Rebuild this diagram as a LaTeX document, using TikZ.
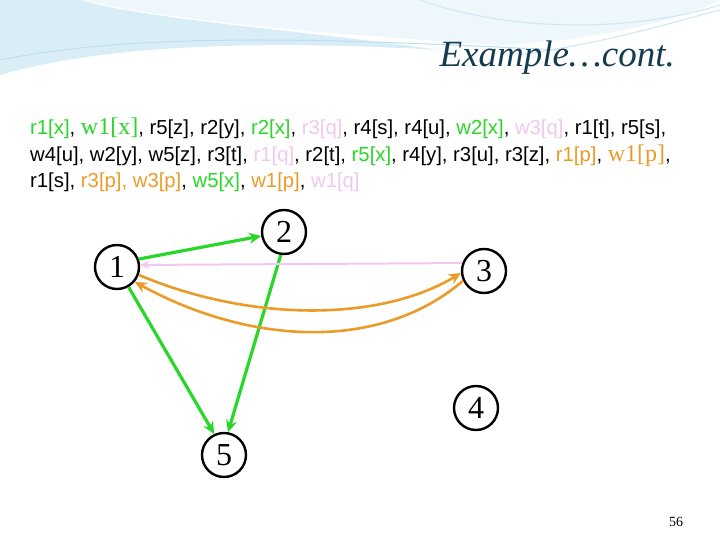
\documentclass[tikz,border=0pt]{standalone}
\usepackage{fontspec}
\setmainfont{Liberation Serif}
\newfontfamily\arial{Liberation Sans}
\usetikzlibrary{arrows.meta}
\definecolor{gr}{RGB}{40,215,40}
\definecolor{pk}{RGB}{240,200,240}
\definecolor{og}{RGB}{235,155,40}
\definecolor{tt}{RGB}{20,60,80}
\definecolor{sky}{RGB}{170,215,235}
\newcommand{\serifbig}[1]{{\rmfamily\fontsize{24}{24}\selectfont #1}}
\begin{document}
\begin{tikzpicture}[x=1pt,y=-1pt,
  vtx/.style={circle,draw,line width=2.4pt,minimum size=44pt,inner sep=0pt,font=\fontsize{32}{32}\selectfont},
  edge/.style={line width=3.2pt,-{Stealth[length=12pt,width=11pt]}},
  txt/.style={anchor=west,font=\arial\fontsize{20.3}{20.3}\selectfont,inner sep=0pt}]
\useasboundingbox (0,0) rectangle (720,540);
\fill[white] (0,0) rectangle (720,540);
% swoosh background
\fill[sky!45] (0,0) -- (0,75) .. controls (120,40) and (300,42) .. (440,50) .. controls (300,30) and (150,20) .. (80,0) -- cycle;
\fill[sky!20] (80,0) .. controls (200,25) and (350,35) .. (500,45) .. controls (600,40) and (680,20) .. (720,0) -- cycle;
\draw[sky!80,line width=1pt] (0,60) .. controls (150,30) and (350,40) .. (560,50);
\draw[sky!60,line width=1pt] (420,0) .. controls (520,35) and (640,30) .. (720,5);
\draw[sky!60,line width=1pt] (520,55) .. controls (620,40) and (680,20) .. (720,10);
\node[anchor=east,font=\itshape\fontsize{37}{37}\selectfont,text=tt,inner sep=0pt] (title) at (675,58) {Example…cont.};
\node[txt] (l1) at (30,128) {\textcolor{gr}{r1[x]}, \textcolor{gr}{\serifbig{w1[x]}}, r5[z], r2[y], \textcolor{gr}{r2[x]}, \textcolor{pk}{r3[q]}, r4[s], r4[u], \textcolor{gr}{w2[x]}, \textcolor{pk}{w3[q]}, r1[t], r5[s],};
\node[txt] (l2) at (30,156) {w4[u], w2[y], w5[z], r3[t], \textcolor{pk}{r1[q]}, r2[t], \textcolor{gr}{r5[x]}, r4[y], r3[u], r3[z], \textcolor{og}{r1[p]}, \textcolor{og}{\serifbig{w1[p]}},};
\node[txt] (l3) at (30,182) {r1[s], \textcolor{og}{r3[p], w3[p]}, \textcolor{gr}{w5[x]}, \textcolor{og}{w1[p]}, \textcolor{pk}{w1[q]}};
\node[vtx] (n1) at (117,267) {1};
\node[vtx] (n2) at (284,232) {2};
\node[vtx] (n3) at (484,271) {3};
\node[vtx] (n4) at (476,408) {4};
\node[vtx] (n5) at (224,455) {5};
\draw[edge,gr] (n1.20) -- (n2.190);
\draw[edge,gr] (n2.262) -- (n5.80);
\draw[edge,gr] (n1.-60) -- (n5.115);
\draw[pk,line width=2pt,-{Stealth[length=9pt,width=8pt]}] (n3.160) -- (n1.5);
\draw[edge,og,line width=2.6pt] (n1.-20) .. controls (250,322) and (380,322) .. (n3.185);
\draw[edge,og,line width=2.6pt] (n3.205) .. controls (380,352) and (250,345) .. (n1.-40);
\node[font=\fontsize{14}{14}\selectfont,inner sep=0pt] (pg) at (676,522) {56};
\end{tikzpicture}
\end{document}
